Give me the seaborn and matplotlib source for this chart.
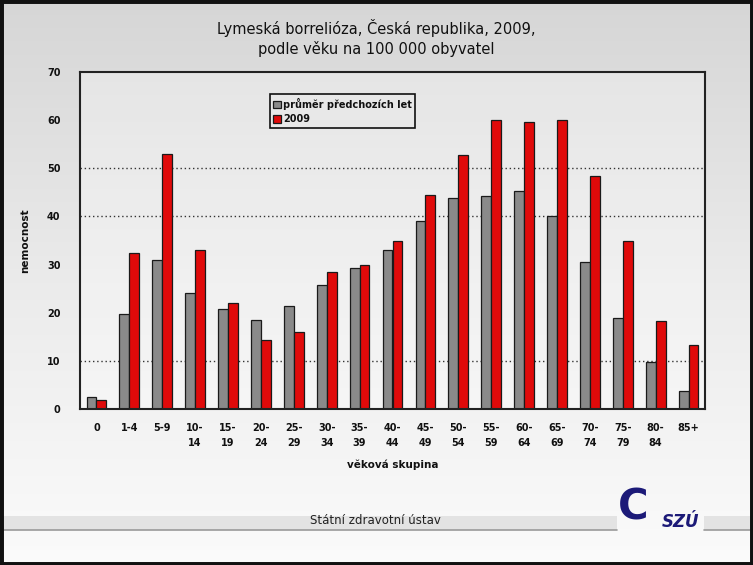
import numpy as np
import pandas as pd
import matplotlib
matplotlib.use("Agg")
import matplotlib.pyplot as plt
from matplotlib.patches import Rectangle
import seaborn as sns

# data
vekove_skupiny = ['0', '1-4', '5-9', '10-\n14', '15-\n19', '20-\n24', '25-\n29', '30-\n34',
                  '35-\n39', '40-\n44', '45-\n49', '50-\n54', '55-\n59', '60-\n64', '65-\n69',
                  '70-\n74', '75-\n79', '80-\n84', '85+']
prumer = [2.5, 19.8, 31.0, 24.0, 20.8, 18.5, 21.3, 25.8, 29.3, 33.0, 39.0, 43.8,
          44.2, 45.2, 40.0, 30.5, 19.0, 9.7, 3.8]
rok_2009 = [1.8, 32.5, 53.0, 33.0, 22.0, 14.3, 16.0, 28.5, 30.0, 35.0, 44.5, 52.7,
            60.0, 59.7, 60.0, 48.3, 35.0, 18.3, 13.2]
serie = ['průměr předchozích let', '2009']

df = pd.DataFrame({
    'skupina': vekove_skupiny * 2,
    'nemocnost': prumer + rok_2009,
    'serie': [serie[0]] * len(prumer) + [serie[1]] * len(rok_2009),
})

sns.set_style("white")
plt.rcParams['font.family'] = ['DejaVu Sans']
plt.rcParams.update({'text.color': '#111111', 'axes.labelcolor': '#111111',
                     'xtick.color': '#111111', 'ytick.color': '#111111'})

fig = plt.figure(figsize=(7.53, 5.65), dpi=100)

# background gradient for the whole slide
bg = fig.add_axes([0, 0, 1, 1], zorder=-10)
grad = np.linspace(0, 1, 256).reshape(-1, 1)
bg.imshow(grad, aspect='auto', cmap=matplotlib.colors.LinearSegmentedColormap.from_list(
    'g', ['#d6d6d6', '#ebebeb', '#fbfbfb']), extent=[0, 1, 0, 1], origin='upper')
bg.set_xlim(0, 1)
bg.set_ylim(0, 1)
bg.axis('off')

# plot area slightly lighter than the slide
bg.add_patch(Rectangle((80 / 753, 1 - 409 / 565), 625 / 753, 337 / 565,
                       color='white', alpha=0.3, lw=0))

# footer band, interrupted by the logo
bg.add_patch(Rectangle((0, 1 - 530 / 565), 0.82, 14 / 565, color='#e3e3e3', lw=0))
bg.add_patch(Rectangle((0.935, 1 - 530 / 565), 0.065, 14 / 565, color='#e3e3e3', lw=0))
bg.plot([0, 0.82], [1 - 530 / 565] * 2, color='#9a9a9a', lw=1.2)
bg.plot([0.935, 1], [1 - 530 / 565] * 2, color='#9a9a9a', lw=1.2)

ax = fig.add_axes([80 / 753, 1 - 409 / 565, 625 / 753, 337 / 565])
ax.patch.set_alpha(0)

sns.barplot(data=df, x='skupina', y='nemocnost', hue='serie', ax=ax,
            palette=['#8a8a8a', '#e00a0a'], width=0.6, gap=0,
            edgecolor='#1a1a1a', linewidth=0.9, saturation=1)

ax.set_ylim(0, 70)
ax.set_xlim(-0.5, len(vekove_skupiny) - 0.5)
ax.set_yticks(range(0, 71, 10))
ax.set_yticklabels([str(v) for v in range(0, 71, 10)], fontsize=7, fontweight='bold')
ax.set_xticks(range(len(vekove_skupiny)))
ax.set_xticklabels(vekove_skupiny, fontsize=7, fontweight='bold', linespacing=1.7, va='top')
ax.set_xticks(np.arange(-0.5, len(vekove_skupiny), 1), minor=True)
ax.tick_params(axis='x', which='major', length=0, pad=10)
ax.tick_params(axis='x', which='minor', length=4, width=1, direction='out', color='#222222')
ax.tick_params(axis='y', length=4, width=1, direction='out', color='#222222', pad=10)

for y in [10, 40, 50]:
    ax.axhline(y, color='#333333', lw=1, ls=(0, (1, 2)), zorder=0.5)

for s in ax.spines.values():
    s.set_color('#222222')
    s.set_linewidth(1.5)

ax.set_xlabel('věková skupina', fontsize=7.5, fontweight='bold', labelpad=8)
ax.set_ylabel('nemocnost', fontsize=7.5, fontweight='bold', labelpad=12)

leg = ax.legend(loc='upper left', bbox_to_anchor=(0.296, 0.948),
                frameon=True, fancybox=False, handlelength=0.8, handleheight=0.8,
                handletextpad=0.2, borderpad=0.35, labelspacing=0.45,
                prop={'weight': 'bold', 'size': 7})
leg.get_frame().set_edgecolor('#111111')
leg.get_frame().set_linewidth(1.2)
leg.get_frame().set_facecolor('#e8e8e8')
leg.get_frame().set_alpha(1)

fig.text(0.5, 1 - 38 / 565, 'Lymeská borrelióza, Česká republika, 2009,\npodle věku na 100 000 obyvatel',
         ha='center', va='center', fontsize=10.5, linespacing=1.3, color='#111111')

fig.text(375 / 753, 1 - 521 / 565, 'Státní zdravotní ústav', ha='center', va='center',
         fontsize=8.5, color='#222222')
fig.text(633 / 753, 1 - 508 / 565, 'C', ha='center', va='center', fontsize=30,
         fontweight='bold', color='#1c1a78')
fig.text(680 / 753, 1 - 522 / 565, 'SZÚ', ha='center', va='center', fontsize=12,
         fontweight='bold', style='italic', color='#1c1a78')

# dark slide border
fig.patches.append(Rectangle((0, 0), 1, 1, transform=fig.transFigure, fill=False,
                             edgecolor='#111111', lw=5))

fig.savefig('out.png', dpi=100)
